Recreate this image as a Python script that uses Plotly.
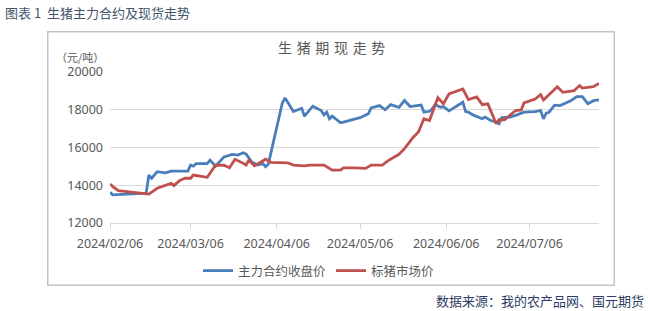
import plotly.graph_objects as go

# ---------------- data ----------------
main_dates = [
    "2024-02-06", "2024-02-07", "2024-02-19", "2024-02-20", "2024-02-21", "2024-02-23",
    "2024-02-26", "2024-02-28", "2024-03-05", "2024-03-06", "2024-03-07", "2024-03-08",
    "2024-03-12", "2024-03-13", "2024-03-15", "2024-03-18", "2024-03-21", "2024-03-23",
    "2024-03-25", "2024-03-26", "2024-03-28", "2024-03-30", "2024-04-01", "2024-04-02",
    "2024-04-03", "2024-04-08", "2024-04-09", "2024-04-12", "2024-04-15", "2024-04-16",
    "2024-04-19", "2024-04-22", "2024-04-23", "2024-04-24", "2024-04-25", "2024-04-26",
    "2024-04-29", "2024-04-30", "2024-05-06", "2024-05-09", "2024-05-10", "2024-05-13",
    "2024-05-15", "2024-05-17", "2024-05-20", "2024-05-22", "2024-05-24", "2024-05-28",
    "2024-05-29", "2024-05-31", "2024-06-01", "2024-06-02", "2024-06-04", "2024-06-05",
    "2024-06-07", "2024-06-12", "2024-06-13", "2024-06-14", "2024-06-16", "2024-06-19",
    "2024-06-20", "2024-06-22", "2024-06-24", "2024-06-25", "2024-06-26", "2024-06-29",
    "2024-07-01", "2024-07-04", "2024-07-08", "2024-07-10", "2024-07-11", "2024-07-12",
    "2024-07-13", "2024-07-15", "2024-07-17", "2024-07-21", "2024-07-23", "2024-07-25",
    "2024-07-27", "2024-07-29", "2024-07-31",
]
main_close = [
    13630, 13490, 13580, 14540, 14370, 14720,
    14660, 14750, 14750, 15070, 15010, 15150,
    15150, 15330, 15010, 15500, 15630, 15600,
    15720, 15650, 15240, 15070, 15150, 14980,
    15120, 18350, 18630, 17910, 18080, 17660,
    18190, 17960, 17730, 17870, 17520, 17660,
    17310, 17340, 17580, 17790, 18100, 18220,
    18000, 18270, 18130, 18490, 18170, 18250,
    17870, 17920, 18050, 18270, 18130, 18170,
    17940, 18400, 17900, 17870, 17700, 17520,
    17610, 17430, 17350, 17260, 17580, 17610,
    17700, 17870, 17900, 17960, 17520, 17820,
    17870, 18240, 18220, 18490, 18700, 18700,
    18320, 18480, 18520,
]

spot_dates = [
    "2024-02-06", "2024-02-07", "2024-02-09", "2024-02-19", "2024-02-20", "2024-02-23",
    "2024-02-26", "2024-02-28", "2024-02-29", "2024-03-02", "2024-03-04", "2024-03-06",
    "2024-03-07", "2024-03-12", "2024-03-15", "2024-03-18", "2024-03-20", "2024-03-22",
    "2024-03-25", "2024-03-26", "2024-03-27", "2024-03-29", "2024-04-02", "2024-04-04",
    "2024-04-10", "2024-04-12", "2024-04-16", "2024-04-18", "2024-04-23", "2024-04-26",
    "2024-04-29", "2024-04-30", "2024-05-04", "2024-05-08", "2024-05-10", "2024-05-14",
    "2024-05-16", "2024-05-17", "2024-05-20", "2024-05-22", "2024-05-25", "2024-05-27",
    "2024-05-29", "2024-05-31", "2024-06-03", "2024-06-05", "2024-06-07", "2024-06-12",
    "2024-06-14", "2024-06-17", "2024-06-19", "2024-06-21", "2024-06-24", "2024-06-25",
    "2024-06-27", "2024-07-01", "2024-07-03", "2024-07-04", "2024-07-08", "2024-07-10",
    "2024-07-11", "2024-07-13", "2024-07-16", "2024-07-18", "2024-07-22", "2024-07-24",
    "2024-07-25", "2024-07-29", "2024-07-31",
]
spot_price = [
    14070, 13930, 13710, 13580, 13530, 13840,
    14010, 14100, 13980, 14240, 14380, 14370,
    14540, 14420, 15070, 15060, 14930, 15380,
    15160, 15070, 15330, 15030, 15380, 15210,
    15190, 15070, 15030, 15070, 15070, 14800,
    14800, 14920, 14920, 14890, 15070, 15070,
    15290, 15370, 15640, 15940, 16520, 16820,
    17520, 17430, 18640, 18310, 18840, 19100,
    18540, 18680, 18270, 18310, 17260, 17470,
    17470, 17960, 17990, 18360, 18570, 18800,
    18520, 18800, 19220, 18920, 19010, 19280,
    19150, 19220, 19400,
]

x_tick_vals = ["2024-02-06", "2024-03-06", "2024-04-06", "2024-05-06", "2024-06-06", "2024-07-06"]
x_tick_text = ["2024/02/06", "2024/03/06", "2024/04/06", "2024/05/06", "2024/06/06", "2024/07/06"]
y_tick_vals = [12000, 14000, 16000, 18000, 20000]
y_tick_text = ["12000", "14000", "16000", "18000", "20000"]

series_names = ["主力合约收盘价", "标猪市场价"]

# ---------------- layout geometry (pixels) ----------------
W, H = 648, 311
FL, FR, FT, FB = 48, 614, 32, 285          # outer chart frame
FW, FH = FR - FL, FB - FT
PL, PR, PT, PB = 110, 599, 72, 223         # inner plotting area


def px(x):
    return (x - FL) / FW


def py(y):
    return (FB - y) / FH


CJK = "Noto Sans CJK SC"
NUM = "Noto Sans, Noto Sans CJK SC"
GRAY = "#595959"
GRID = "#d9d9d9"
FRAME = "#c4c4c4"

fig = go.Figure()
fig.add_trace(go.Scatter(
    x=main_dates, y=main_close, mode="lines", name=series_names[0],
    line=dict(color="#4a7ebb", width=2.8),
))
fig.add_trace(go.Scatter(
    x=spot_dates, y=spot_price, mode="lines", name=series_names[1],
    line=dict(color="#c0504d", width=2.8),
))
# empty helper subplot whose mirrored axis lines draw the outer frame
fig.add_trace(go.Scatter(x=[], y=[], xaxis="x2", yaxis="y2", showlegend=False,
                         hoverinfo="skip"))

fig.add_shape(type="rect", xref="paper", yref="paper", x0=0, x1=1, y0=0, y1=1,
              line=dict(color=FRAME, width=1), fillcolor="rgba(0,0,0,0)", layer="above")

annotations = [
    dict(text="图表 1  生猪主力合约及现货走势", xref="paper", yref="paper",
         x=px(3), y=py(12), xanchor="left", yanchor="middle", showarrow=False,
         font=dict(family=CJK, size=13, color="#44546a")),
    dict(text="生\u2004猪\u2004期\u2004现\u2004走\u2004势", xref="paper", yref="paper",
         x=px(331), y=py(47), xanchor="center", yanchor="middle", showarrow=False,
         font=dict(family=CJK, size=14, color=GRAY)),
    dict(text="（元/吨）", xref="paper", yref="paper",
         x=px(106), y=py(57), xanchor="right", yanchor="middle", showarrow=False,
         font=dict(family=CJK, size=11, color=GRAY)),
    dict(text="数据来源：我的农产品网、国元期货", xref="paper", yref="paper",
         x=px(646), y=py(300), xanchor="right", yanchor="middle", showarrow=False,
         font=dict(family=CJK, size=13, color="#2e3b63")),
]

frame_axis = dict(domain=[0, 1], range=[0, 1], showline=True, mirror=True,
                  linecolor=FRAME, linewidth=1, showgrid=False, zeroline=False,
                  showticklabels=False, ticks="", fixedrange=True)

fig.update_layout(
    width=W, height=H,
    margin=dict(l=FL, r=W - FR, t=FT, b=H - FB, autoexpand=False, pad=0),
    paper_bgcolor="white", plot_bgcolor="rgba(0,0,0,0)",
    font=dict(family=NUM, size=12.5, color=GRAY),
    showlegend=True,
    legend=dict(
        orientation="h", x=px(198), y=py(271), xanchor="left", yanchor="middle",
        font=dict(family=CJK, size=12.5, color=GRAY),
        bgcolor="rgba(0,0,0,0)", itemwidth=30, tracegroupgap=0,
    ),
    xaxis=dict(
        domain=[px(PL), px(PR)],
        type="date", range=["2024-02-06", "2024-07-31"],
        tickmode="array", tickvals=x_tick_vals, ticktext=x_tick_text,
        showgrid=False, showline=True, linecolor=GRID, linewidth=1,
        ticks="outside", ticklen=5, tickcolor=GRID, tickwidth=1,
        ticklabelstandoff=4,
        tickfont=dict(family=NUM, size=12.5, color=GRAY),
        zeroline=False, fixedrange=True,
    ),
    yaxis=dict(
        domain=[py(PB), py(PT)],
        range=[12000, 20000], tickmode="array", tickvals=y_tick_vals, ticktext=y_tick_text,
        showgrid=True, gridcolor=GRID, gridwidth=1,
        showline=False, zeroline=False, ticks="",
        ticklabelstandoff=6,
        tickfont=dict(family=NUM, size=12.5, color=GRAY),
        fixedrange=True,
    ),
    xaxis2=dict(anchor="y2", **frame_axis),
    yaxis2=dict(anchor="x2", **frame_axis),
    annotations=annotations,
)

fig.write_html("out.html")
